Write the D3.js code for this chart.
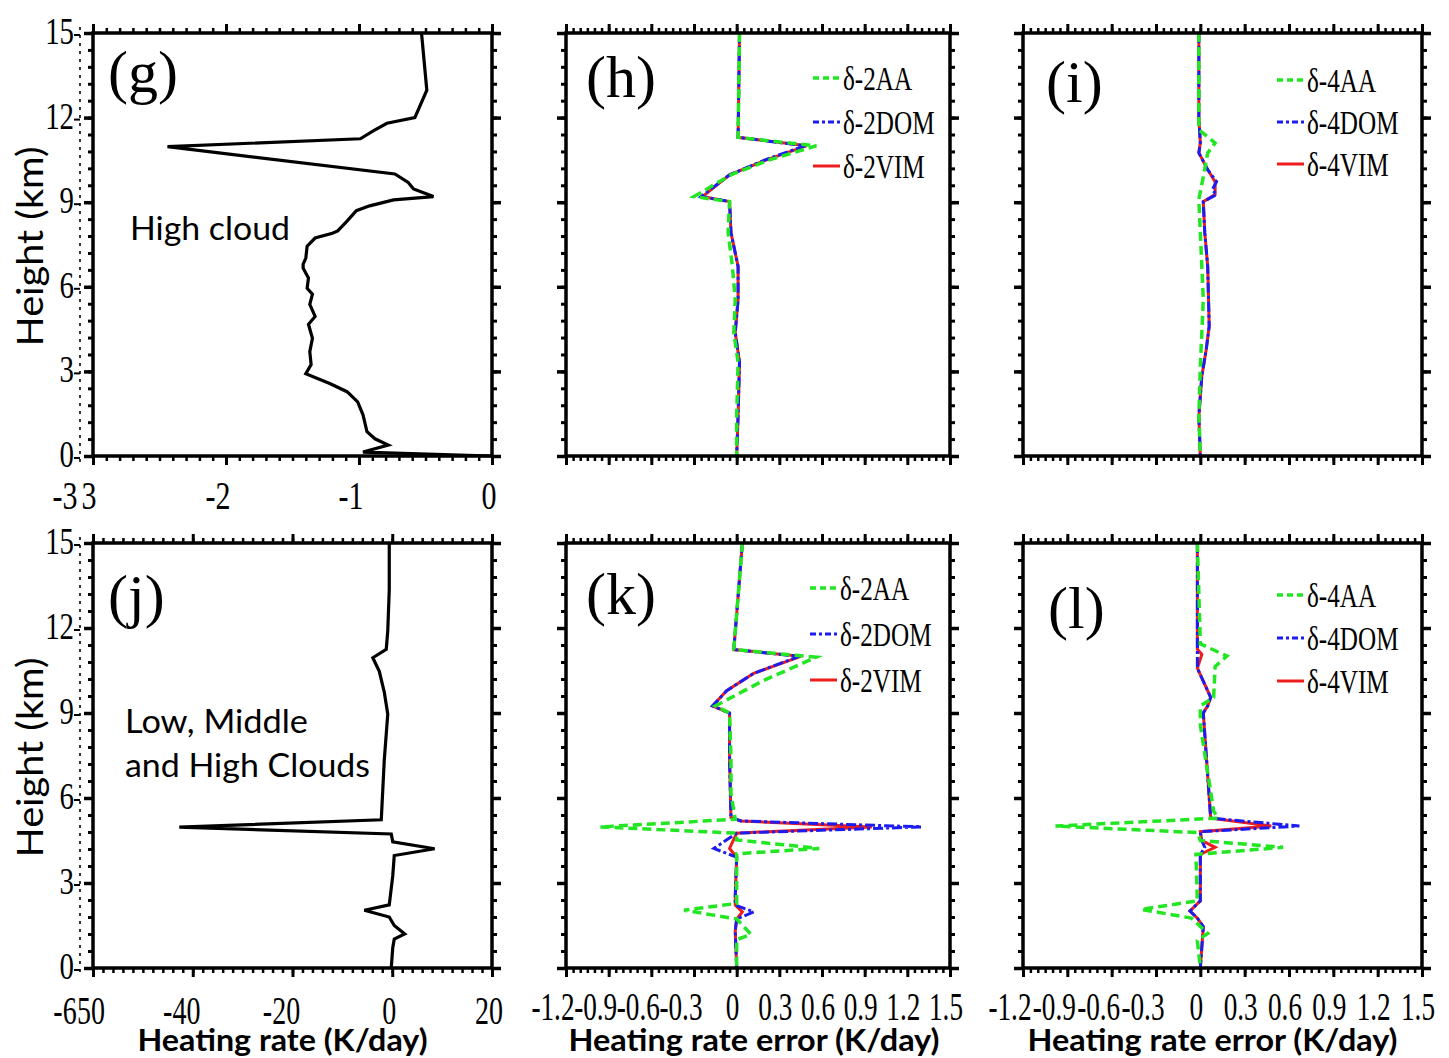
<!DOCTYPE html>
<html>
<head>
<meta charset="utf-8">
<script src="https://cdn.jsdelivr.net/npm/d3@7"></script>
<style>
  body { margin: 0; background: #fff; }
  svg { display: block; }
</style>
</head>
<body>
<svg id="fig" width="1449" height="1058"></svg>
<script>
"use strict";

// ---- data: heights in km, heating rates / errors in K/day ----

// (g) high cloud heating rate
var gHeight = [15, 12.97, 12.0, 11.8, 11.54, 11.25, 10.97, 10.0, 9.7, 9.47,
  9.2, 9.08, 8.87, 8.7, 8.33, 7.98, 7.9, 7.73, 7.44, 7.02,
  6.8, 6.66, 6.31, 5.95, 5.74, 5.38, 4.95, 4.67, 4.17, 3.7,
  3.24, 2.92, 2.57, 2.28, 1.92, 1.46, 0.86, 0.61, 0.39, 0.14, 0];
var gRate = [-0.53, -0.49, -0.58, -0.79, -0.89, -0.99, -2.44, -0.73, -0.63, -0.59,
  -0.44, -0.74, -0.92, -1.02, -1.09, -1.16, -1.2, -1.33, -1.39, -1.4,
  -1.42, -1.42, -1.38, -1.39, -1.35, -1.37, -1.33, -1.38, -1.35, -1.37,
  -1.36, -1.4, -1.22, -1.09, -1.01, -0.97, -0.94, -0.88, -0.78, -0.97, 0];

// (h) errors, delta-2 schemes
var hHeight = [15, 11.3, 11.0, 10.5, 9.97, 9.2, 9.02, 7.92, 6.72, 5.55, 4.38, 3.32, 1.41, 0];
var hVIM = [0.02, 0.01, 0.49, 0.21, -0.05, -0.24, -0.05, -0.04, 0.01, 0.01, -0.01, 0.02, 0.01, 0];
var hDOM = [0.02, 0.01, 0.48, 0.20, -0.05, -0.25, -0.05, -0.04, 0.01, 0.01, -0.01, 0.02, 0.01, 0];
var hAA  = [0.02, 0.01, 0.56, 0.23, -0.04, -0.30, -0.05, -0.06, -0.03, -0.01, -0.02, 0.01, 0.0, 0];

// (i) errors, delta-4 schemes
var iHeight = [15, 12.0, 11.1, 10.75, 10.15, 9.73, 9.44, 9.27, 9.02, 7.92, 6.72, 4.6, 3.78, 2.83, 1.41, 0];
var iVIM = [-0.01, -0.01, 0, -0.01, 0.05, 0.10, 0.10, 0.10, 0.02, 0.03, 0.05, 0.06, 0.04, 0.01, -0.01, 0];
var iDOM = [-0.01, -0.01, 0, -0.01, 0.05, 0.11, 0.08, 0.11, 0.02, 0.03, 0.05, 0.06, 0.04, 0.01, -0.01, 0];
var iHeightAA = [15, 11.57, 11.1, 10.75, 9.9, 9.1, 7.92, 5.55, 3.18, 1.41, 0];
var iAA = [-0.01, -0.01, 0.10, 0.05, 0.02, -0.01, 0, 0.02, 0, -0.01, 0];

// (j) low, middle and high clouds heating rate
var jHeight = [15, 13.35, 11.9, 11.25, 10.95, 10.47, 9.74, 8.96, 7.34, 5.23,
  4.97, 4.73, 4.45, 4.21, 3.97, 3.25, 2.23, 2.04, 1.8, 1.5, 1.2, 1.02, 0.72, 0];
var jRate = [-0.6, -0.6, -0.9, -1.2, -3.9, -2.6, -1.6, -0.9, -1.6, -2.2,
  -42.7, -0.2, 0.1, 8.5, 0.4, 0.1, -0.6, -5.6, -0.6, 0.4, 2.5, 0.4, 0.1, -0.2];

// (k) errors, delta-2 schemes
var kHeight = [15, 11.24, 11.0, 10.4, 9.79, 9.25, 9.0, 7.37, 5.31, 5.19,
  4.98, 4.76, 4.22, 3.91, 2.52, 2.22, 1.98, 1.73, 1.31, 0];
var kVIM = [0.04, -0.02, 0.45, 0.12, -0.07, -0.17, -0.05, -0.05, -0.04, 0.03,
  0.95, 0.0, -0.05, 0.0, -0.01, -0.01, 0.04, 0.0, -0.01, 0];
var kDOM = [0.04, -0.02, 0.44, 0.12, -0.07, -0.17, -0.05, -0.05, -0.04, 0.03,
  1.30, 0.0, -0.16, 0.0, -0.01, -0.01, 0.12, 0.0, -0.01, 0];
var kHeightAA = [15, 11.24, 10.97, 10.15, 9.25, 9.0, 7.37, 6.16, 5.25, 4.98,
  4.76, 4.52, 4.22, 4.03, 2.28, 2.04, 1.73, 1.19, 1.0, 0];
var kAA = [0.04, -0.02, 0.56, 0.19, -0.15, -0.05, -0.04, -0.04, -0.01, -0.96,
  0.0, 0.0, 0.58, 0.0, 0.0, -0.37, 0.0, 0.10, 0.0, 0];

// (l) errors, delta-4 schemes
var lHeight = [15, 11.25, 11.07, 10.58, 9.55, 9.25, 9.0, 5.29, 5.01, 4.81,
  4.5, 4.26, 4.01, 2.37, 2.01, 1.76, 1.46, 0];
var lVIM = [-0.02, -0.02, 0.01, -0.02, 0.07, 0.05, 0.02, 0.07, 0.48, 0.0,
  0.01, 0.10, 0.0, 0.0, -0.07, -0.02, 0.02, 0];
var lDOM = [-0.02, -0.02, -0.02, -0.02, 0.07, 0.05, 0.02, 0.07, 0.67, 0.0,
  0.01, 0.03, 0.0, 0.0, -0.07, -0.02, 0.02, 0];
var lHeightAA = [15, 11.44, 11.01, 10.64, 9.55, 9.25, 8.58, 5.54, 5.29, 5.01,
  4.78, 4.5, 4.26, 4.01, 2.37, 2.07, 1.76, 1.22, 0.97, 0];
var lAA = [-0.02, 0, 0.18, 0.10, 0.09, 0, 0, 0.09, 0.12, -0.98,
  -0.02, 0, 0.56, -0.03, -0.02, -0.40, -0.06, 0.05, -0.02, 0];

// tick labels
var heightTicks = [0, 3, 6, 9, 12, 15];
var gTicks = [-2, -1, 0];
var jTicks = [-40, -20, 0, 20];
var errTicks = [-1.2, -0.9, -0.6, -0.3, 0, 0.3, 0.6, 0.9, 1.2, 1.5];
var errTickLabels = ["-1.2", "-0.9", "-0.6", "-0.3", "0", "0.3", "0.6", "0.9", "1.2", "1.5"];
var legend2 = ["δ-2AA", "δ-2DOM", "δ-2VIM"];
var legend4 = ["δ-4AA", "δ-4DOM", "δ-4VIM"];

// ---- drawing ----
var svg = d3.select("#fig");
var SERIF = "'Liberation Serif', 'Times New Roman', serif";
var SANS = "Lato, 'Open Sans', sans-serif";

var styles = {
  black: { color: "#000", width: 3.2, dash: null },
  AA:    { color: "#22e622", width: 3.5, dash: "9,5" },
  DOM:   { color: "#1c1cf0", width: 3, dash: "10,3,3,3" },
  VIM:   { color: "#ee1c1c", width: 3, dash: null }
};

// squeeze text horizontally like the narrow labels of the figure
function squeeze(sel, f) {
  sel.each(function() {
    var w = this.getComputedTextLength();
    d3.select(this).attr("textLength", w * f).attr("lengthAdjust", "spacingAndGlyphs");
  });
}

function steps(a, b, n) {
  return d3.range(n + 1).map(function(i) { return a + (b - a) * i / n; });
}

function tickRow(g, axis, tr, vals, size, w) {
  var a = g.append("g").attr("transform", tr)
    .call(axis.tickValues(vals).tickSize(size).tickFormat(""));
  a.select(".domain").remove();
  a.selectAll("line").attr("stroke", "#000").attr("stroke-width", w);
}

function panel(p) {
  var g = svg.append("g");
  var x = d3.scaleLinear().domain(p.xDomain).range([p.x0, p.x1]);
  var y = d3.scaleLinear().domain([0, 15]).range([p.y1, p.y0]);

  var xMinor = steps(p.xDomain[0], p.xDomain[1], p.xMinorN);
  var xMajor = steps(p.xDomain[0], p.xDomain[1], p.xMajorN);
  var yMinor = steps(0, 15, 25);

  // ticks on all four sides, pointing out
  [[d3.axisTop(x), "translate(0," + p.y0 + ")"], [d3.axisBottom(x), "translate(0," + p.y1 + ")"]]
    .forEach(function(a) {
      tickRow(g, a[0], a[1], xMinor, 5, 2.5);
      tickRow(g, a[0].scale(x), a[1], xMajor, 9, 3);
    });
  [[d3.axisLeft(y), "translate(" + p.x0 + ",0)"], [d3.axisRight(y), "translate(" + p.x1 + ",0)"]]
    .forEach(function(a) {
      tickRow(g, a[0], a[1], yMinor, 5, 3);
      tickRow(g, a[0].scale(y), a[1], heightTicks, 9, 3.5);
    });

  // curves
  var line = d3.line()
    .x(function(d) { return x(d[0]); })
    .y(function(d) { return y(d[1]); });
  p.series.forEach(function(s) {
    var st = styles[s.style];
    g.append("path")
      .datum(d3.zip(s.v, s.h))
      .attr("d", line)
      .attr("fill", "none")
      .attr("stroke", st.color)
      .attr("stroke-width", st.width)
      .attr("stroke-dasharray", st.dash)
      .attr("stroke-linejoin", "miter");
  });

  // frame
  g.append("rect")
    .attr("x", p.x0).attr("y", p.y0)
    .attr("width", p.x1 - p.x0).attr("height", p.y1 - p.y0)
    .attr("fill", "none").attr("stroke", "#000").attr("stroke-width", 3.5);

  // panel letter
  g.append("text")
    .attr("x", p.tag[1]).attr("y", p.tag[2])
    .attr("font-family", SERIF).attr("font-size", 60)
    .text(p.tag[0]);

  // legend
  if (p.legend) {
    var lg = g.append("g").attr("class", "legend");
    ["AA", "DOM", "VIM"].forEach(function(k, i) {
      var by = p.legendY + i * p.legendStep;
      var st = styles[k];
      lg.append("line")
        .attr("x1", p.legendX - 30).attr("x2", p.legendX - 3)
        .attr("y1", by - 12).attr("y2", by - 12)
        .attr("stroke", st.color).attr("stroke-width", st.width)
        .attr("stroke-dasharray", k === "AA" ? "6,4" : (k === "DOM" ? "6,3,3,3" : null));
      lg.append("text")
        .attr("x", p.legendX).attr("y", by)
        .attr("font-family", SERIF).attr("font-size", 34)
        .text(p.legend[i])
        .call(squeeze, 0.74);
    });
  }

  // x tick labels
  if (p.xLabels) {
    var xl = g.append("g")
      .attr("font-family", SERIF).attr("font-size", p.xLabelSize)
      .attr("text-anchor", "middle");
    p.xLabels.forEach(function(v, i) {
      xl.append("text")
        .attr("x", x(v) + (v < 0 ? p.negShift : p.posShift))
        .attr("y", p.xLabelY)
        .text(p.xLabelText ? p.xLabelText[i] : String(v));
    });
    (p.xExtra || []).forEach(function(e) {
      xl.append("text").attr("x", e[1]).attr("y", p.xLabelY).text(e[0]);
    });
    xl.selectAll("text").call(squeeze, p.xSqueeze);
  }

  // height labels and the dotted line beside them
  if (p.yLabels) {
    g.append("line")
      .attr("x1", 80).attr("x2", 80).attr("y1", p.y0 - 6).attr("y2", p.y1 + 6)
      .attr("stroke", "#000").attr("stroke-width", 1.6).attr("stroke-dasharray", "3,5");
    var yl = g.append("g")
      .attr("font-family", SERIF).attr("font-size", 37)
      .attr("text-anchor", "end");
    heightTicks.forEach(function(v) {
      yl.append("text").attr("x", 74).attr("y", y(v) + 11).text(v);
      g.append("line")
        .attr("x1", 74).attr("x2", 80).attr("y1", y(v) + 2).attr("y2", y(v) + 2)
        .attr("stroke", "#000").attr("stroke-width", 2);
    });
    yl.selectAll("text").call(squeeze, 0.78);

    g.append("text")
      .attr("transform", "translate(43," + ((p.y0 + p.y1) / 2 + 2) + ") rotate(-90)")
      .attr("text-anchor", "middle")
      .attr("font-family", SANS).attr("font-size", 36)
      .attr("textLength", 200).attr("lengthAdjust", "spacingAndGlyphs")
      .text("Height (km)");
  }

  // note inside the panel
  (p.notes || []).forEach(function(n) {
    g.append("text")
      .attr("x", n[1]).attr("y", n[2])
      .attr("font-family", SANS).attr("font-size", 33)
      .attr("textLength", n[3]).attr("lengthAdjust", "spacingAndGlyphs")
      .text(n[0]);
  });

  // axis title
  if (p.title) {
    g.append("text")
      .attr("x", (p.x0 + p.x1) / 2 + p.title[2]).attr("y", 1051)
      .attr("text-anchor", "middle")
      .attr("font-family", SANS).attr("font-weight", "bold").attr("font-size", 30)
      .attr("textLength", p.title[1]).attr("lengthAdjust", "spacingAndGlyphs")
      .text(p.title[0]);
  }
}

var top0 = 33, top1 = 456, bot0 = 543, bot1 = 968;

panel({
  x0: 93, x1: 492, y0: top0, y1: top1, xDomain: [-3, 0], xMinorN: 30, xMajorN: 3,
  series: [{ h: gHeight, v: gRate, style: "black" }],
  tag: ["(g)", 108, 92],
  xLabels: gTicks, xLabelY: 509, xLabelSize: 40, xSqueeze: 0.75, negShift: -8, posShift: -3,
  xExtra: [["-3", 65], ["3", 89]],
  yLabels: true,
  notes: [["High cloud", 130, 240, 160]]
});

panel({
  x0: 566, x1: 950, y0: top0, y1: top1, xDomain: [-1.2, 1.5], xMinorN: 54, xMajorN: 9,
  series: [{ h: hHeight, v: hVIM, style: "VIM" }, { h: hHeight, v: hDOM, style: "DOM" },
           { h: hHeight, v: hAA, style: "AA" }],
  tag: ["(h)", 586, 97],
  legend: legend2, legendX: 843, legendY: 90, legendStep: 44
});

panel({
  x0: 1023, x1: 1422, y0: top0, y1: top1, xDomain: [-1.2, 1.5], xMinorN: 54, xMajorN: 9,
  series: [{ h: iHeight, v: iVIM, style: "VIM" }, { h: iHeight, v: iDOM, style: "DOM" },
           { h: iHeightAA, v: iAA, style: "AA" }],
  tag: ["(i)", 1046, 102],
  legend: legend4, legendX: 1307, legendY: 92, legendStep: 42
});

panel({
  x0: 93, x1: 492, y0: bot0, y1: bot1, xDomain: [-60, 20], xMinorN: 40, xMajorN: 4,
  series: [{ h: jHeight, v: jRate, style: "black" }],
  tag: ["(j)", 108, 616],
  xLabels: jTicks, xLabelY: 1024, xLabelSize: 40, xSqueeze: 0.7, negShift: -11, posShift: -3,
  xExtra: [["-6", 65], ["50", 91]],
  yLabels: true,
  notes: [["Low, Middle", 125, 733, 183], ["and High Clouds", 125, 777, 245]],
  title: ["Heating rate (K/day)", 290, -10]
});

panel({
  x0: 566, x1: 950, y0: bot0, y1: bot1, xDomain: [-1.2, 1.5], xMinorN: 54, xMajorN: 9,
  series: [{ h: kHeight, v: kVIM, style: "VIM" }, { h: kHeight, v: kDOM, style: "DOM" },
           { h: kHeightAA, v: kAA, style: "AA" }],
  tag: ["(k)", 586, 614],
  legend: legend2, legendX: 840, legendY: 600, legendStep: 46,
  xLabels: errTicks, xLabelText: errTickLabels, xLabelY: 1020, xLabelSize: 40, xSqueeze: 0.68,
  negShift: -13, posShift: -4,
  title: ["Heating rate error (K/day)", 371, -4]
});

panel({
  x0: 1023, x1: 1422, y0: bot0, y1: bot1, xDomain: [-1.2, 1.5], xMinorN: 54, xMajorN: 9,
  series: [{ h: lHeight, v: lVIM, style: "VIM" }, { h: lHeight, v: lDOM, style: "DOM" },
           { h: lHeightAA, v: lAA, style: "AA" }],
  tag: ["(l)", 1048, 628],
  legend: legend4, legendX: 1307, legendY: 607, legendStep: 43,
  xLabels: errTicks, xLabelText: errTickLabels, xLabelY: 1020, xLabelSize: 40, xSqueeze: 0.68,
  negShift: -13, posShift: -4,
  title: ["Heating rate error (K/day)", 370, -10]
});
</script>
</body>
</html>
